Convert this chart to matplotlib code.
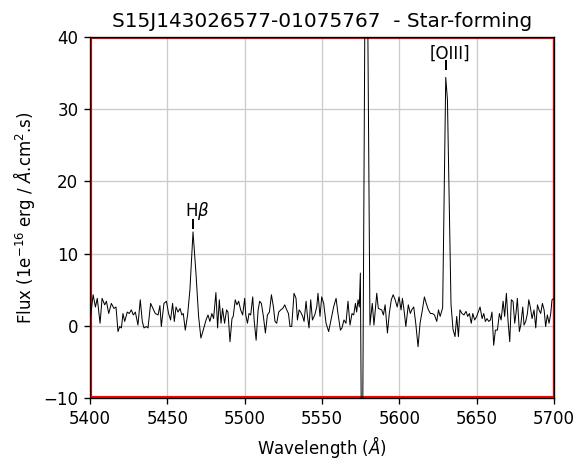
import numpy as np
import matplotlib
matplotlib.use('Agg')
import matplotlib.pyplot as plt

# spectrum (wavelength in Angstrom, flux in 1e-16)
wave = [5400.0, 5402.0, 5403.5, 5404.7, 5406.5, 5407.8, 5409.5, 5410.6, 5412.1, 5413.8,
        5415.5, 5416.8, 5418.1, 5419.2, 5420.3, 5421.3, 5422.4, 5424.1, 5425.4, 5426.7,
        5428.0, 5429.3, 5431.0, 5432.5, 5433.8, 5434.9, 5436.4, 5437.5, 5439.2, 5440.7,
        5442.2, 5444.0, 5445.2, 5446.1, 5447.8, 5449.4,
        5450.8, 5452.1, 5453.4, 5454.5, 5455.6, 5456.9, 5458.2, 5459.4, 5460.3, 5461.6,
        5463.1, 5464.6, 5466.6, 5468.5, 5470.2, 5471.7, 5473.2, 5475.0, 5476.3, 5477.5,
        5478.8, 5479.9, 5481.4, 5482.5, 5483.6, 5484.7, 5485.7, 5487.0, 5488.3, 5489.2,
        5490.5, 5491.8, 5492.6, 5493.9, 5495.0, 5496.1, 5497.4, 5498.7, 5500.0,
        5500.7, 5501.8, 5502.8, 5503.9, 5505.2, 5506.1, 5507.4, 5508.7, 5509.7, 5510.8,
        5512.1, 5513.4, 5514.7, 5516.0, 5517.3, 5518.6, 5519.6, 5520.7, 5522.0, 5523.3,
        5524.6, 5525.9, 5527.2, 5528.3, 5529.3, 5530.4, 5531.9, 5533.2, 5534.1, 5535.2,
        5536.2, 5537.5, 5538.4, 5539.7, 5540.5, 5541.6, 5542.7, 5543.8, 5545.3, 5546.6,
        5547.4, 5548.7, 5549.8,
        5551.1, 5552.6, 5554.3, 5556.0, 5557.5, 5559.1, 5560.3, 5561.9, 5562.9, 5564.2,
        5565.5, 5566.8, 5568.1, 5569.4, 5570.5, 5571.6, 5572.4, 5573.3, 5574.1, 5574.8,
        5575.9, 5578.5, 5581.0,
        5582.5, 5583.6, 5585.4, 5586.4, 5588.6, 5589.7, 5590.8, 5592.3, 5593.5, 5594.8,
        5596.0, 5597.3, 5598.6, 5599.8, 5601.1, 5602.0, 5603.3, 5604.2, 5605.8, 5607.1,
        5608.0, 5609.3, 5610.6, 5612.1, 5613.4, 5614.9, 5616.2, 5617.4, 5618.8, 5620.1,
        5621.4, 5622.7, 5624.2, 5625.3, 5626.4, 5628.0, 5630.0, 5631.1, 5633.4, 5634.7,
        5636.0, 5637.1, 5638.2, 5639.2, 5640.5, 5641.8, 5643.1, 5644.2, 5645.3, 5646.5,
        5647.5, 5648.7, 5650.0,
        5652.2, 5653.5, 5654.6, 5655.6, 5656.7, 5657.8, 5658.9, 5659.9, 5661.0, 5662.1,
        5663.4, 5664.7, 5665.8, 5667.1, 5668.1, 5669.2, 5670.3, 5671.4, 5672.4, 5673.5,
        5674.6, 5675.5, 5676.3, 5677.6, 5678.5, 5679.8, 5680.6, 5681.7, 5682.8, 5683.7,
        5684.7, 5685.8, 5687.1, 5688.2, 5689.3, 5690.3, 5691.4, 5692.5, 5693.6, 5694.6,
        5695.7, 5696.8, 5697.9, 5698.7, 5700.0]
flux = [0.6, 4.3, 2.6, 3.8, 0.35, 3.8, 2.9, 3.4, 1.7, 3.1,
        2.4, 2.6, -0.8, -0.1, -0.3, 1.7, 0.6, 1.9, 1.7, 2.2,
        1.5, 1.9, 0.1, 3.6, 0.6, -0.3, -0.1, -0.3, 3.1, 2.4,
        1.7, 1.5, 2.8, -0.1, 3.1, 3.4,
        1.7, 0.8, 3.1, 0.6, 2.6, 1.9, 2.4, 1.5, 1.7, -0.6,
        1.5, 5.0, 13.0, 7.3, 1.3, -1.7, -0.6, 0.8, 1.5, 0.6,
        1.7, 1.0, 4.6, -0.3, 3.6, 0.35, 2.4, 0.35, 2.2, 1.9,
        -2.2, 1.0, 1.3, 3.6, 2.9, 3.4, 2.2, 1.5, 3.8,
        1.5, 0.35, 1.7, 1.5, 4.0, 0.8, -2.0, 2.2, 3.4, 3.1,
        1.3, -1.0, 1.5, 1.9, 4.3, 2.6, 0.6, 0.35, 1.9, 2.2,
        2.4, 2.9, 2.2, 1.7, -0.1, -0.1, 4.5, 3.8, 0.8, 2.2,
        1.9, 1.3, 0.6, 3.4, 1.5, -0.3, 3.6, 0.8, 1.5, 2.6,
        4.5, 1.3, 4.0,
        3.1, 0.35, -0.8, 1.0, 2.6, 3.8, 1.7, -0.6, -0.3, 0.8,
        0.35, 3.4, 0.1, 1.7, 1.5, 3.1, 1.9, 3.6, 2.6, 7.3,
        -30.0, 75.0, 0.1,
        3.1, 0.1, 4.5, 2.4, 2.2, 1.5, 2.9, -1.0, 1.7, 3.6,
        4.3, 3.6, 2.6, 4.0, 2.2, 3.8, 1.7, -0.1, 2.9, 1.7,
        2.2, 2.6, 0.35, -2.9, 0.35, 2.2, 4.0, 3.1, 2.2, 1.7,
        1.7, 1.5, 0.6, 2.2, 1.3, 2.5, 34.4, 31.3, 3.0, -0.5,
        -1.5, 1.3, -1.5, 2.2, 1.7, 1.5, 2.0, 1.3, 1.7, 0.35,
        1.7, 0.8, 1.3,
        2.6, 1.0, 1.7, 0.6, 1.0, 0.6, 0.8, 1.9, -2.7, -0.6,
        -0.6, 1.7, 0.8, 3.4, 1.3, 4.5, 0.6, -2.2, 3.6, 3.4,
        0.35, 1.9, 3.8, -0.8, 0.1, 2.6, 0.1, 0.6, 1.7, 3.6,
        2.6, 1.0, 2.2, -0.3, 2.9, 2.2, 1.7, 3.1, 2.2, -0.1,
        1.5, 0.35, 1.7, 3.6, 3.8]

# emission line marks
line_names = [r'H$\beta$', '[OIII]']
line_wave = [5466.9, 5630.2]
line_mark = [13.4, 35.4]   # bottom of the little tick above each line

xmin, xmax = 5400, 5700
ymin, ymax = -10, 40

fig = plt.figure(figsize=(586/120, 467/120), dpi=120)
ax = fig.add_axes([0.1536, 0.1478, 0.7918, 0.773])

ax.plot(wave, flux, color='k', lw=0.6)

# red frame
ax.axhline(ymax, color='r', lw=2.5, zorder=1)
ax.axhline(ymin, color='r', lw=2.5, zorder=1)
ax.axvline(xmin, color='r', lw=2.5, zorder=1)
ax.axvline(xmax, color='r', lw=2.0, zorder=1)

for name, wl, yb in zip(line_names, line_wave, line_mark):
    ax.vlines(wl, yb, yb + 1.4, color='k', lw=1.2)
    ax.text(wl + 2.5, yb + 1.0, name, ha='center', va='bottom', fontsize=10)

ax.set_xlim(xmin, xmax)
ax.set_ylim(ymin, ymax)
ax.set_xticks(np.arange(5400, 5701, 50))
ax.set_yticks(np.arange(-10, 41, 10))
ax.grid(True, color='#cccccc', lw=0.8)
ax.set_axisbelow(True)
ax.set_xlabel(r'Wavelength ($Å$)')
ax.set_ylabel(r'Flux (1e$^{-16}$ erg / $Å$.cm$^{2}$.s)')
ax.set_title('S15J143026577-01075767  - Star-forming', fontsize=12)

plt.savefig('out.png', dpi=120)
